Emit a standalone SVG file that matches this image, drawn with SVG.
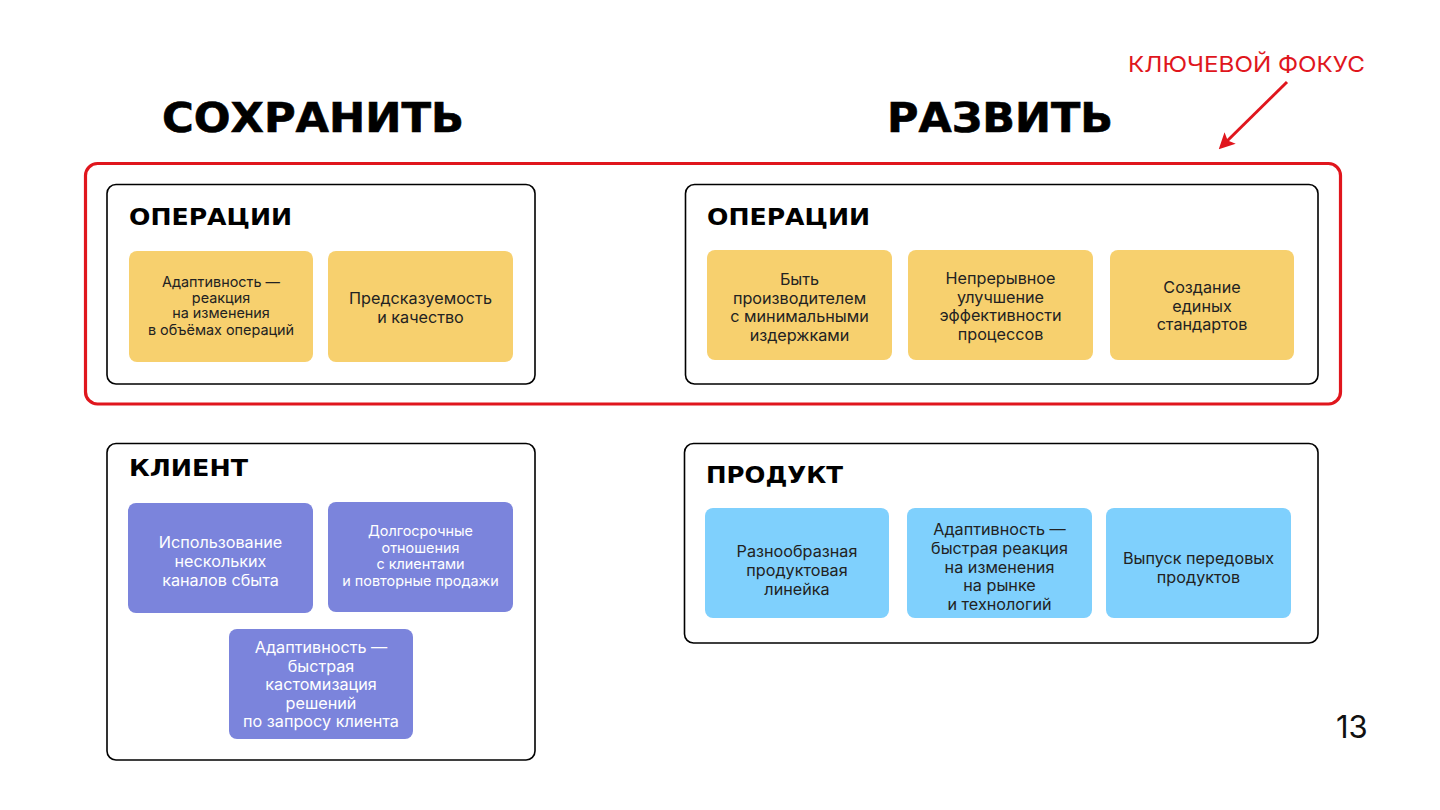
<svg xmlns="http://www.w3.org/2000/svg" width="1440" height="810" viewBox="0 0 1440 810">
<style>
.bg{fill:#ffffff}
.title{font-family:"DejaVu Sans","Liberation Sans",sans-serif;font-weight:bold;fill:#000;font-size:40px;stroke:#000;stroke-width:0.6}
.sec{font-family:"DejaVu Sans","Liberation Sans",sans-serif;font-weight:bold;fill:#000;font-size:23px}
.box{fill:#fff;stroke:#000;stroke-width:1.6}
.frame{fill:none;stroke:#e0161d;stroke-width:3.2}
.y{fill:#f7d06e}
.p{fill:#7b84dc}
.b{fill:#7fd0fd}
.t{font-family:Inter,"Noto Sans",sans-serif;font-size:16.2px;fill:#222;text-anchor:middle}
.ts{font-family:Inter,"Noto Sans",sans-serif;font-size:14.4px;fill:#222;text-anchor:middle}
.w{fill:#fff}
.red{font-family:Inter,"Noto Sans",sans-serif;font-size:22px;fill:#e0161d}
.num{font-family:Inter,"Noto Sans",sans-serif;font-size:31px;fill:#111}
</style>
<defs>
<marker id="ah" markerWidth="16" markerHeight="16" refX="10" refY="7" orient="auto" markerUnits="userSpaceOnUse" viewBox="0 0 14 14">
<path d="M0,0 L14,7 L0,14 L3,7 Z" fill="#e0161d"/>
</marker>
</defs>
<rect class="bg" x="0" y="0" width="1440" height="810"/>

<g id="headers">
<text class="title" x="162" y="131.5" textLength="302" lengthAdjust="spacingAndGlyphs">СОХРАНИТЬ</text>
<text class="title" x="887" y="131.5" textLength="226" lengthAdjust="spacingAndGlyphs">РАЗВИТЬ</text>
<text class="red" x="1128" y="72" textLength="237" lengthAdjust="spacingAndGlyphs">КЛЮЧЕВОЙ ФОКУС</text>
<text class="num" x="1336" y="738">13</text>
</g>

<g id="key-focus-frame">
<rect class="frame" x="85.5" y="163.5" width="1255" height="240.5" rx="12"/>
</g>

<g id="connectors">
<line x1="1287" y1="82" x2="1222" y2="146" stroke="#e0161d" stroke-width="3" marker-end="url(#ah)"/>
</g>

<g id="keep-operations">
<rect class="box" x="107" y="184.5" width="428" height="199.5" rx="9"/>
<text class="sec" x="129" y="225" textLength="163" lengthAdjust="spacingAndGlyphs">ОПЕРАЦИИ</text>
<g id="keep-op-1">
<rect class="y" x="129" y="251" width="184" height="111" rx="8"/>
<text class="ts"><tspan x="221" y="287">Адаптивность —</tspan><tspan x="221" y="302.5">реакция</tspan><tspan x="221" y="318">на изменения</tspan><tspan x="221" y="335">в объёмах операций</tspan></text>
</g>
<g id="keep-op-2">
<rect class="y" x="328" y="251" width="185" height="111" rx="8"/>
<text class="t"><tspan x="420.5" y="304">Предсказуемость</tspan><tspan x="420.5" y="323">и качество</tspan></text>
</g>
</g>

<g id="develop-operations">
<rect class="box" x="685.5" y="184.5" width="632.5" height="199.5" rx="9"/>
<text class="sec" x="707" y="225" textLength="163" lengthAdjust="spacingAndGlyphs">ОПЕРАЦИИ</text>
<g id="dev-op-1">
<rect class="y" x="707" y="250" width="185" height="110" rx="8"/>
<text class="t"><tspan x="799.5" y="285">Быть</tspan><tspan x="799.5" y="303.5">производителем</tspan><tspan x="799.5" y="322">с минимальными</tspan><tspan x="799.5" y="340.5">издержками</tspan></text>
</g>
<g id="dev-op-2">
<rect class="y" x="908" y="250" width="185" height="110" rx="8"/>
<text class="t"><tspan x="1000.5" y="284">Непрерывное</tspan><tspan x="1000.5" y="302.5">улучшение</tspan><tspan x="1000.5" y="321">эффективности</tspan><tspan x="1000.5" y="339.5">процессов</tspan></text>
</g>
<g id="dev-op-3">
<rect class="y" x="1110" y="250" width="184" height="110" rx="8"/>
<text class="t"><tspan x="1202" y="293">Создание</tspan><tspan x="1202" y="311.5">единых</tspan><tspan x="1202" y="330">стандартов</tspan></text>
</g>
</g>

<g id="keep-client">
<rect class="box" x="107" y="443.5" width="428" height="316.5" rx="9"/>
<text class="sec" x="129" y="476" textLength="119" lengthAdjust="spacingAndGlyphs">КЛИЕНТ</text>
<g id="client-1">
<rect class="p" x="128" y="503" width="185" height="110" rx="8"/>
<text class="t w"><tspan x="220.5" y="548">Использование</tspan><tspan x="220.5" y="567">нескольких</tspan><tspan x="220.5" y="585.5">каналов сбыта</tspan></text>
</g>
<g id="client-2">
<rect class="p" x="328" y="502" width="185" height="110" rx="8"/>
<text class="ts w"><tspan x="420.5" y="536">Долгосрочные</tspan><tspan x="420.5" y="552.5">отношения</tspan><tspan x="420.5" y="569">с клиентами</tspan><tspan x="420.5" y="585.5">и повторные продажи</tspan></text>
</g>
<g id="client-3">
<rect class="p" x="229" y="629" width="184" height="110" rx="8"/>
<text class="t w"><tspan x="321" y="653">Адаптивность —</tspan><tspan x="321" y="671.5">быстрая</tspan><tspan x="321" y="690">кастомизация</tspan><tspan x="321" y="708.5">решений</tspan><tspan x="321" y="727">по запросу клиента</tspan></text>
</g>
</g>

<g id="develop-product">
<rect class="box" x="684.5" y="443.5" width="633.5" height="199.5" rx="9"/>
<text class="sec" x="706" y="483" textLength="137" lengthAdjust="spacingAndGlyphs">ПРОДУКТ</text>
<g id="product-1">
<rect class="b" x="705" y="508" width="184" height="110" rx="8"/>
<text class="t"><tspan x="797" y="557">Разнообразная</tspan><tspan x="797" y="576">продуктовая</tspan><tspan x="797" y="595">линейка</tspan></text>
</g>
<g id="product-2">
<rect class="b" x="907" y="508" width="185" height="110" rx="8"/>
<text class="t"><tspan x="999.5" y="535">Адаптивность —</tspan><tspan x="999.5" y="554">быстрая реакция</tspan><tspan x="999.5" y="572.5">на изменения</tspan><tspan x="999.5" y="591">на рынке</tspan><tspan x="999.5" y="610">и технологий</tspan></text>
</g>
<g id="product-3">
<rect class="b" x="1106" y="508" width="185" height="110" rx="8"/>
<text class="t"><tspan x="1198.5" y="564">Выпуск передовых</tspan><tspan x="1198.5" y="583">продуктов</tspan></text>
</g>
</g>
</svg>
